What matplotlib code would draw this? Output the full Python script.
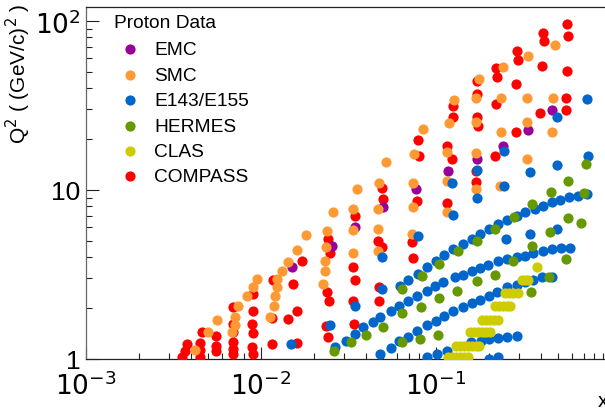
import numpy as np
import matplotlib.pyplot as plt
from matplotlib.ticker import FixedLocator, FixedFormatter, LogLocator, NullFormatter

plt.rcParams['font.family'] = ['Liberation Sans', 'DejaVu Sans']
plt.rcParams['axes.unicode_minus'] = False

# ---- data (x, Q^2) ----
emc_x = [0.015, 0.0255, 0.0345, 0.0498, 0.0769, 0.1171, 0.1715, 0.24, 0.3357, 0.46]
emc_q2 = [3.50, 4.67, 6.04, 7.93, 10.1, 12.95, 15.25, 18.2, 22.65, 29.7]

smc_x = [0.0042, 0.00498, 0.0056, 0.0071, 0.0074, 0.0068, 0.0071, 0.00832, 0.009, 0.0095,
         0.0123, 0.0123, 0.0121, 0.0119, 0.01125, 0.0132, 0.0143, 0.0161,
         0.0181, 0.0238, 0.0235, 0.0258, 0.0354, 0.0336, 0.0336, 0.0467, 0.0474, 0.0467,
         0.0518, 0.074, 0.074, 0.0749, 0.0843, 0.073, 0.0232, 0.0232, 0.0227, 0.0336,
         0.0467, 0.1156, 0.1156, 0.1156, 0.1186, 0.127,
         0.4786, 0.3357, 0.24, 0.1766, 0.1693, 0.235, 0.331, 0.4664, 0.1693, 0.331,
         0.235, 0.46, 0.1693, 0.331, 0.1693, 0.2306]
smc_q2 = [1.13, 1.445, 1.70, 1.773, 2.06, 1.445, 1.589, 2.36, 2.667, 2.97,
          2.97, 2.667, 2.36, 2.06, 1.773, 3.32, 3.75, 4.42,
          5.42, 5.75, 4.6, 7.41, 10.1, 7.72, 5.80, 5.88, 11.0, 7.72,
          14.65, 11.0, 7.93, 16.3, 22.95, 5.49, 3.80, 3.32, 2.78, 4.24,
          4.36, 16.8, 11.3, 7.41, 24.9, 34.1,
          72.1, 62.1, 53.4, 45.4, 35.0, 35.0, 35.0, 35.0, 25.25, 25.25,
          22.0, 22.0, 16.55, 15.25, 10.1, 10.6]

e143_x = [0.0148, 0.0248, 0.0345, 0.0491, 0.0491, 0.079, 0.1233, 0.125, 0.1715, 0.1715,
          0.2448, 0.2448, 0.3443, 0.3443, 0.2498, 0.491, 0.491, 0.491, 0.7294, 0.7396,
          # top chain
          0.0623, 0.0692, 0.079, 0.0889, 0.1, 0.111, 0.125, 0.1426, 0.1606, 0.178, 0.2009,
          0.226, 0.2547, 0.2904, 0.3228, 0.368, 0.4087, 0.46, 0.5117, 0.5754, 0.6473, 0.7294,
          # middle chain
          0.0265, 0.0306, 0.0345, 0.0383, 0.0436, 0.0479, 0.0553, 0.0615, 0.0692, 0.0778,
          0.0889, 0.0987, 0.1097, 0.1285, 0.1426, 0.1606, 0.178, 0.1983, 0.226, 0.2547,
          0.2904, 0.3228, 0.358, 0.4087, 0.46, 0.5176, 0.5834,
          # lower chain
          0.0479, 0.0553, 0.0615, 0.0692, 0.0778, 0.0889, 0.1, 0.111, 0.125, 0.1426,
          0.1606, 0.178, 0.2009, 0.2233, 0.2547, 0.2904, 0.3228, 0.358, 0.4036, 0.46,
          # bottom chain
          0.0889, 0.101, 0.115, 0.1593, 0.1800, 0.2009, 0.226, 0.2547, 0.2904, 0.2009, 0.226]
e143_q2 = [1.227, 1.589, 2.06, 2.595, 4.01, 5.35, 11.0, 7.11, 8.97, 13.1,
           10.6, 17.0, 12.8, 5.49, 5.13, 5.88, 14.1, 27.05, 34.5, 15.9,
           2.70, 2.935, 3.184, 3.50, 3.80, 4.12, 4.48, 4.79, 5.13, 5.49, 5.88,
           6.29, 6.64, 7.02, 7.41, 7.72, 8.04, 8.49, 8.73, 9.09, 9.21, 9.47,
           1.178, 1.278, 1.406, 1.546, 1.655, 1.773, 1.923, 2.06, 2.205, 2.36,
           2.525, 2.70, 2.856, 3.055, 3.14, 3.32, 3.455, 3.60, 3.80, 3.91,
           4.01, 4.07, 4.24, 4.36, 4.48, 4.54, 4.54,
           1.07, 1.16, 1.278, 1.35, 1.465, 1.589, 1.679, 1.796, 1.923, 2.03,
           2.145, 2.234, 2.36, 2.49, 2.667, 2.74, 2.856, 2.935, 3.055, 3.055,
           1.03, 1.07, 1.115, 1.26, 1.278, 1.31, 1.33, 1.35, 1.368, 1.0, 1.03]

hermes_x = [0.7197, 0.5678, 0.454, 0.353, 0.28, 0.2173, 0.1715, 0.7016, 0.5678, 0.448,
            0.6745, 0.353, 0.1336, 0.2754, 0.2173, 0.1715, 0.132, 0.4407, 0.349, 0.553,
            0.104, 0.082, 0.064, 0.0831, 0.104, 0.064, 0.0498, 0.0398, 0.0327, 0.026,
            0.081, 0.1026, 0.064]
hermes_q2 = [14.25, 11.3, 9.73, 8.26, 6.93, 5.88, 4.99, 9.60, 6.83, 5.64,
             6.38, 4.67, 4.36, 3.80, 3.14, 2.9, 2.525, 3.055, 2.49, 3.91,
             2.296, 2.03, 2.595, 3.10, 3.65, 1.872, 1.546, 1.387, 1.26, 1.115,
             1.313, 1.387, 1.26]

clas_x = [0.1172, 0.1233, 0.130, 0.137, 0.1445, 0.1524,
          0.130, 0.137, 0.1445, 0.1524, 0.1606, 0.1693, 0.176,
          0.156, 0.1648, 0.1738, 0.1832, 0.193, 0.2037,
          0.1832, 0.193, 0.2037, 0.2144, 0.226,
          0.2173, 0.229, 0.2415, 0.2547, 0.265,
          0.2478, 0.2612, 0.2754, 0.2944,
          0.3097, 0.3228, 0.3357,
          0.3776]
clas_q2 = [1.03] * 6 + [1.19] * 7 + [1.445] * 6 + [1.70] * 5 + [2.06] * 5 + [2.46] * 4 + [2.935] * 3 + [3.50]

compass_x = [0.00354, 0.00368, 0.00378, 0.00448, 0.00448, 0.00448, 0.0046,
             0.0055, 0.0055, 0.0055,
             0.0069, 0.0069, 0.0069, 0.0069, 0.0069, 0.0069,
             0.009, 0.0089, 0.009, 0.0089, 0.009, 0.009,
             0.0117, 0.0115, 0.0115, 0.0152, 0.0143, 0.016, 0.016,
             0.0241, 0.0248, 0.01715, 0.0238, 0.0245, 0.0235, 0.0241,
             0.0345, 0.0336, 0.0345, 0.0336, 0.034,
             0.0491, 0.0498, 0.0467, 0.0491, 0.0474, 0.0474,
             0.0778, 0.08, 0.079, 0.073, 0.074,
             0.1156, 0.1233, 0.1156, 0.125, 0.125,
             0.561, 0.568, 0.409, 0.414, 0.29, 0.294, 0.404, 0.561, 0.22, 0.2233,
             0.1715, 0.2864, 0.1715, 0.22, 0.553, 0.393, 0.553, 0.1715, 0.174, 0.2864,
             0.1693, 0.1693, 0.2173]
compass_q2 = [1.03, 1.115, 1.227, 1.03, 1.13, 1.24, 1.445,
              1.115, 1.19, 1.37,
              1.07, 1.146, 1.26, 1.445, 1.61, 2.03,
              1.07, 1.178, 1.425, 1.61, 1.923, 2.425,
              2.935, 1.75, 1.227, 2.78, 1.724, 1.923, 1.24,
              5.13, 4.24, 3.80, 2.49, 2.205, 1.567, 1.35,
              7.02, 3.50, 2.935, 2.205, 1.61,
              10.3, 8.85, 4.99, 4.60, 2.667, 2.205,
              8.61, 15.9, 19.8, 4.92, 3.96,
              18.2, 15.25, 8.38, 31.4, 27.05,
              96.0, 81.5, 84.9, 76.2, 66.4, 58.8, 53.8, 50.8, 52.7, 46.7,
              44.2, 42.4, 37.0, 32.3, 35.0, 28.55, 29.7, 27.05, 23.9, 22.0,
              11.15, 12.95, 15.9]

fig = plt.figure(figsize=(6.05, 4.1), dpi=100)
ax = fig.add_axes([86/605, 50/410, 525/605, 352/410])

ms = 54
h_compass = ax.scatter(compass_x, compass_q2, s=ms, c='#ff0000', linewidths=0, zorder=3)
h_emc = ax.scatter(emc_x, emc_q2, s=ms, c='#990099', linewidths=0, zorder=4)
h_smc = ax.scatter(smc_x, smc_q2, s=ms, c='#ff9933', linewidths=0, zorder=5)
h_e143 = ax.scatter(e143_x, e143_q2, s=ms, c='#0066cc', linewidths=0, zorder=6)
h_hermes = ax.scatter(hermes_x, hermes_q2, s=ms, c='#669900', linewidths=0, zorder=7)
h_clas = ax.scatter(clas_x, clas_q2, s=ms, c='#cccc00', linewidths=0, zorder=8)

ax.set_xscale('log')
ax.set_yscale('log')
ax.set_xlim(1e-3, 1.0)
ax.set_ylim(1.0, 10 ** (352 / 169))

ax.xaxis.set_major_locator(FixedLocator([1e-3, 1e-2, 1e-1]))
ax.xaxis.set_major_formatter(FixedFormatter(['$10^{-3}$', '$10^{-2}$', '$10^{-1}$']))
ax.xaxis.set_minor_locator(LogLocator(base=10, subs=np.arange(2, 10)))
ax.xaxis.set_minor_formatter(NullFormatter())
ax.yaxis.set_major_locator(FixedLocator([1, 10, 100]))
ax.yaxis.set_major_formatter(FixedFormatter(['1', '10', '$10^{2}$']))
ax.yaxis.set_minor_locator(LogLocator(base=10, subs=np.arange(2, 10)))
ax.yaxis.set_minor_formatter(NullFormatter())

ax.tick_params(which='both', direction='in', top=False, right=False, width=0.8, color='#222222')
ax.tick_params(which='major', length=9)
ax.tick_params(which='minor', length=4.5)
ax.tick_params(axis='x', which='major', labelsize=19, pad=8)
ax.tick_params(axis='y', which='major', labelsize=19, pad=4)
for sp in ax.spines.values():
    sp.set_linewidth(0.9)
    sp.set_color('#222222')
ax.spines['left'].set_color('#666666')

fig.text(33/605, 1 - 4/410, 'Q$^{2}$ ( (GeV/c)$^{2}$ )', rotation=90,
         ha='right', va='top', fontsize=15)
fig.text(598/605, 1 - 402/410, 'x', ha='left', va='center', fontsize=15)

leg = ax.legend([h_emc, h_smc, h_e143, h_hermes, h_clas, h_compass],
                ['EMC', 'SMC', 'E143/E155', 'HERMES', 'CLAS', 'COMPASS'],
                title='Proton Data', loc='upper left',
                bbox_to_anchor=(114/605, 1 - 15/410), bbox_transform=fig.transFigure,
                frameon=False, fontsize=13.8, title_fontsize=13.8, alignment='left',
                handlelength=1.7, handletextpad=0.4, labelspacing=0.42,
                borderpad=0, borderaxespad=0, scatterpoints=1)
leg._legend_box.sep = 7

fig.savefig('out.png', dpi=100)
